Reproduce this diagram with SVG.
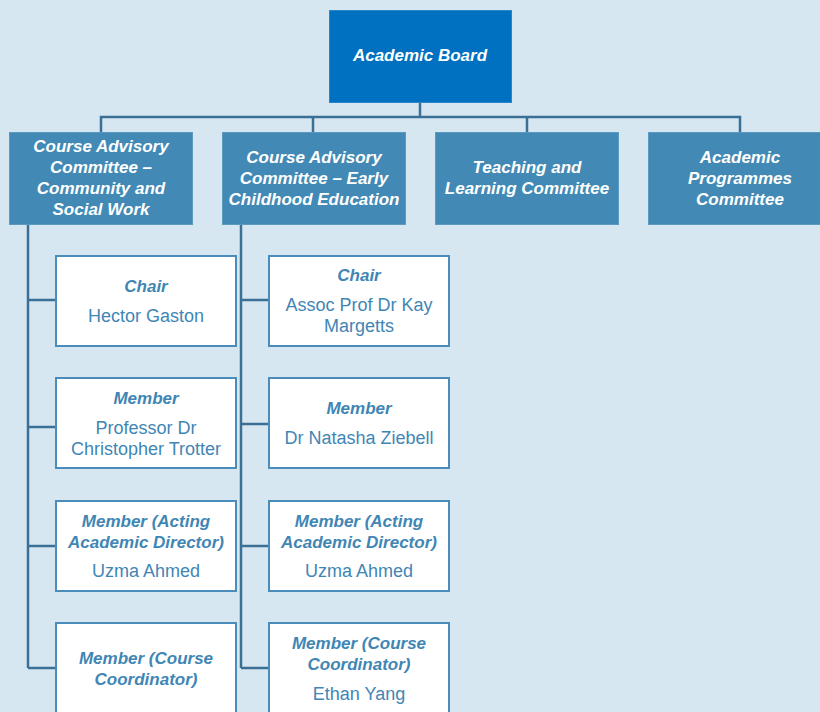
<svg xmlns="http://www.w3.org/2000/svg" width="820" height="712" viewBox="0 0 820 712">
<style>
.bg{fill:#d7e7f1}
.top{fill:#0070c0;stroke:#2a86c8;stroke-width:1}
.l2{fill:#428ab5;stroke:#5a9ac0;stroke-width:1}
.mb{fill:#ffffff;stroke:#4a8cba;stroke-width:2}
.ln{fill:none;stroke:#3a6f96;stroke-width:2.5}
.wt{font-family:"Liberation Sans",Arial,sans-serif;font-weight:bold;font-style:italic;fill:#ffffff;text-anchor:middle;font-size:17px}
.lb{font-family:"Liberation Sans",Arial,sans-serif;font-weight:bold;font-style:italic;fill:#3f86b5;text-anchor:middle;font-size:17px}
.nm{font-family:"Liberation Sans",Arial,sans-serif;fill:#3f86b5;text-anchor:middle;font-size:18px}
</style>
<rect class="bg" x="0" y="0" width="820" height="712"/>
<g id="connectors">
<path class="ln" d="M420,102 V117 M101,132 V117 H740 V132 M313,117 V132 M527,117 V132"/>
<path class="ln" d="M28,224 V668 M28,300 H55 M28,427 H55 M28,546 H55 M28,668 H55"/>
<path class="ln" d="M241,224 V668 M241,300 H268 M241,424 H268 M241,546 H268 M241,668 H268"/>
</g>
<g id="academic-board">
<rect class="top" x="329.5" y="10.5" width="182" height="92"/>
<text class="wt" x="420" y="61">Academic Board</text>
</g>
<g id="cac-csw">
<rect class="l2" x="9.5" y="132.5" width="183" height="92"/>
<text class="wt" x="101" y="152">Course Advisory</text>
<text class="wt" x="101" y="173">Committee –</text>
<text class="wt" x="101" y="194">Community and</text>
<text class="wt" x="101" y="215">Social Work</text>
</g>
<g id="cac-ece">
<rect class="l2" x="222.5" y="132.5" width="183" height="92"/>
<text class="wt" x="314" y="163">Course Advisory</text>
<text class="wt" x="314" y="184">Committee – Early</text>
<text class="wt" x="314" y="205">Childhood Education</text>
</g>
<g id="tlc">
<rect class="l2" x="435.5" y="132.5" width="183" height="92"/>
<text class="wt" x="527" y="173">Teaching and</text>
<text class="wt" x="527" y="194">Learning Committee</text>
</g>
<g id="apc">
<rect class="l2" x="648.5" y="132.5" width="183" height="92"/>
<text class="wt" x="740" y="163">Academic</text>
<text class="wt" x="740" y="184">Programmes</text>
<text class="wt" x="740" y="205">Committee</text>
</g>
<g id="csw-chair">
<rect class="mb" x="56" y="256" width="180" height="90"/>
<text class="lb" x="146" y="292">Chair</text>
<text class="nm" x="146" y="322">Hector Gaston</text>
</g>
<g id="csw-member">
<rect class="mb" x="56" y="378" width="180" height="90"/>
<text class="lb" x="146" y="404">Member</text>
<text class="nm" x="146" y="434">Professor Dr</text>
<text class="nm" x="146" y="455">Christopher Trotter</text>
</g>
<g id="csw-acting">
<rect class="mb" x="56" y="501" width="180" height="90"/>
<text class="lb" x="146" y="527">Member (Acting</text>
<text class="lb" x="146" y="548">Academic Director)</text>
<text class="nm" x="146" y="577">Uzma Ahmed</text>
</g>
<g id="csw-coord">
<rect class="mb" x="56" y="623" width="180" height="92"/>
<text class="lb" x="146" y="664">Member (Course</text>
<text class="lb" x="146" y="685">Coordinator)</text>
</g>
<g id="ece-chair">
<rect class="mb" x="269" y="256" width="180" height="90"/>
<text class="lb" x="359" y="281">Chair</text>
<text class="nm" x="359" y="311">Assoc Prof Dr Kay</text>
<text class="nm" x="359" y="332">Margetts</text>
</g>
<g id="ece-member">
<rect class="mb" x="269" y="378" width="180" height="90"/>
<text class="lb" x="359" y="414">Member</text>
<text class="nm" x="359" y="444">Dr Natasha Ziebell</text>
</g>
<g id="ece-acting">
<rect class="mb" x="269" y="501" width="180" height="90"/>
<text class="lb" x="359" y="527">Member (Acting</text>
<text class="lb" x="359" y="548">Academic Director)</text>
<text class="nm" x="359" y="577">Uzma Ahmed</text>
</g>
<g id="ece-coord">
<rect class="mb" x="269" y="623" width="180" height="92"/>
<text class="lb" x="359" y="649">Member (Course</text>
<text class="lb" x="359" y="670">Coordinator)</text>
<text class="nm" x="359" y="700">Ethan Yang</text>
</g>
</svg>
